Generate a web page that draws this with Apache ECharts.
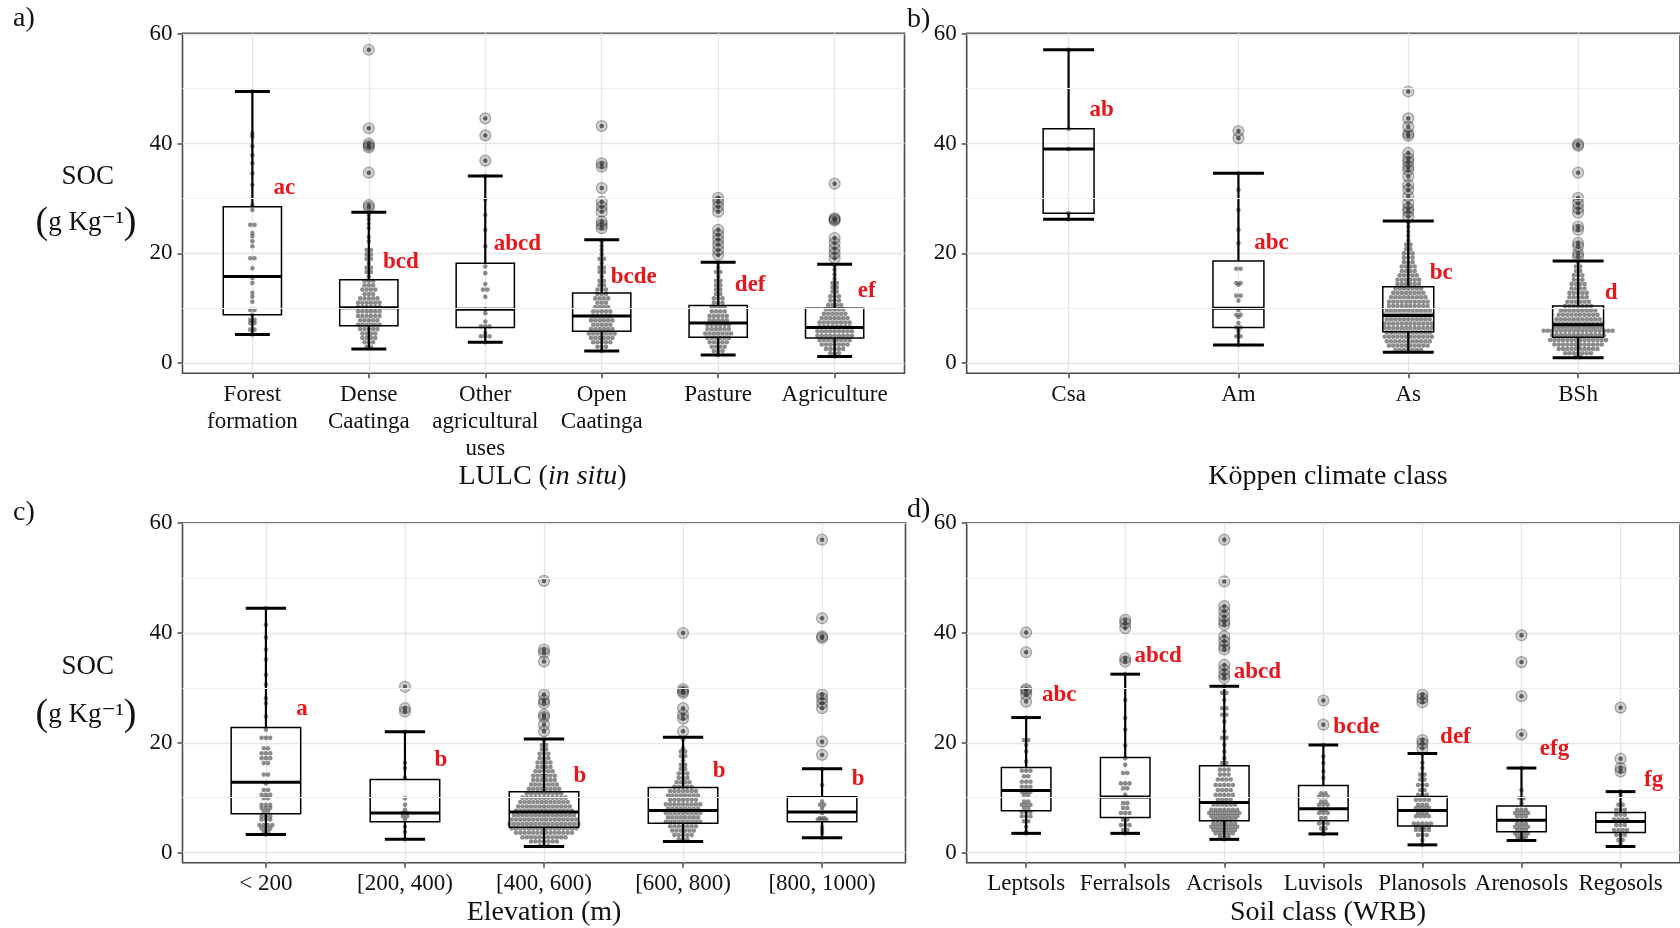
<!DOCTYPE html>
<html>
<head>
<meta charset="utf-8">
<script src="https://cdn.jsdelivr.net/npm/echarts@6/dist/echarts.min.js"></script>
<style>
  html, body { margin: 0; padding: 0; background: #fff; }
  #chart { width: 1680px; height: 928px; }
</style>
</head>
<body>
<div id="chart"></div>
<script>
// ---------- a) land use / land cover ----------
const lulcCats = ['Forest\nformation', 'Dense\nCaatinga', 'Other\nagricultural\nuses', 'Open\nCaatinga', 'Pasture', 'Agriculture'];
// [lower whisker, Q1, median, Q3, upper whisker]
const lulcBox = [
  [5.2, 8.8, 15.8, 28.5, 49.5],
  [2.6, 6.8, 10.1, 15.2, 27.5],
  [3.8, 6.5, 9.8, 18.2, 34.1],
  [2.2, 5.8, 8.6, 12.8, 22.5],
  [1.5, 4.7, 7.3, 10.5, 18.4],
  [1.2, 4.6, 6.5, 10.0, 18.0]
];
// dot-plot rows: [SOC value, number of stacked dots]
const lulcDots = [
  [[49.5,1],[41.9,1],[41.3,1],[39.5,1],[37.9,1],[36.4,1],[34.6,1],[32.5,1],[28.8,1],[27.9,1],[25.2,2],[23.7,1],[23.1,1],[22.2,1],[21.3,1],[19.1,2],[17.3,1],[15.5,1],[14.6,1],[12.8,1],[12.1,1],[11.2,1],[9.7,2],[8.8,1],[7.9,2],[7.3,2],[6.1,2],[5.2,1]],
  [[27.0,1],[26.2,1],[25.4,1],[24.6,1],[23.0,1],[22.2,1],[20.6,2],[19.8,2],[19.0,2],[18.2,1],[17.4,2],[16.6,2],[15.8,1],[15.0,3],[14.2,3],[13.4,4],[12.6,3],[11.8,5],[11.0,6],[10.2,6],[9.4,6],[8.6,6],[7.8,5],[7.0,6],[6.2,5],[5.4,4],[4.6,4],[3.8,3],[3.0,2]],
  [[34.1,1],[29.8,1],[27.0,1],[24.3,1],[21.3,1],[17.6,1],[16.4,1],[14.4,1],[13.4,2],[12.1,1],[9.8,1],[9.1,1],[7.6,1],[6.7,3],[5.5,1],[4.9,3],[3.8,1]],
  [[22.2,1],[21.4,1],[20.6,1],[19.8,1],[19.0,2],[18.2,1],[17.4,2],[16.6,2],[15.8,1],[15.0,2],[14.2,2],[13.4,3],[12.6,3],[11.8,4],[11.0,3],[10.2,4],[9.4,5],[8.6,5],[7.8,6],[7.0,5],[6.2,6],[5.4,7],[4.6,6],[3.8,5],[3.0,3],[2.2,1]],
  [[18.2,1],[17.4,1],[16.6,2],[15.8,1],[15.0,2],[14.2,2],[13.4,2],[12.6,2],[11.8,3],[11.0,3],[10.2,4],[9.4,4],[8.6,5],[7.8,5],[7.0,6],[6.2,6],[5.4,7],[4.6,6],[3.8,5],[3.0,4],[2.2,3],[1.5,1]],
  [[17.8,1],[17.0,1],[16.2,1],[15.4,1],[14.6,2],[13.8,2],[13.0,2],[12.2,3],[11.4,3],[10.6,4],[9.8,5],[9.0,6],[8.2,7],[7.4,8],[6.6,8],[5.8,9],[5.0,9],[4.2,8],[3.4,7],[2.6,5],[1.8,3],[1.2,1]]
];
const lulcOutliers = [
  [],
  [57.1, 42.8, 40.0, 39.6, 39.3, 34.7, 28.8, 28.4],
  [44.6, 41.5, 36.9],
  [43.2, 36.4, 35.8, 31.9, 29.4, 28.5, 27.6, 25.8, 25.2, 24.6],
  [30.1, 29.4, 28.5, 27.6, 24.3, 23.4, 22.5, 21.6, 20.6, 19.7],
  [32.7, 26.4, 26.2, 26.0, 22.8, 21.9, 20.9, 20.0, 19.1]
];
const lulcLetters = ['ac', 'bcd', 'abcd', 'bcde', 'def', 'ef'];
const lulcLetterY = [30.7, 17.1, 20.5, 14.45, 12.9, 11.8];

// ---------- b) Köppen climate ----------
const koppenCats = ['Csa', 'Am', 'As', 'BSh'];
const koppenBox = [
  [26.2, 27.3, 39.0, 42.7, 57.1],
  [3.3, 6.5, 10.0, 18.6, 34.6],
  [2.0, 5.7, 8.7, 13.9, 25.9],
  [1.0, 4.7, 7.0, 10.4, 18.6]
];
const koppenDots = [
  [[57.1,1],[42.7,1],[39.0,1],[27.3,1],[26.2,1]],
  [[34.6,1],[31.6,1],[27.9,1],[24.3,1],[21.9,1],[17.2,2],[14.6,2],[14.3,1],[12.3,2],[11.4,1],[9.7,1],[8.8,2],[8.4,1],[7.3,1],[6.5,2],[5.8,1],[4.9,2],[3.3,1]],
  [[25.6,1],[24.8,1],[24.0,1],[23.2,1],[22.4,1],[21.6,2],[20.8,2],[20.0,3],[19.2,3],[18.4,3],[17.6,4],[16.8,4],[16.0,5],[15.2,6],[14.4,6],[13.6,7],[12.8,8],[12.0,9],[11.2,10],[10.4,10],[9.6,11],[8.8,12],[8.0,11],[7.2,12],[6.4,12],[5.6,11],[4.8,12],[4.0,11],[3.2,10],[2.4,7]],
  [[18.4,1],[17.6,2],[16.8,2],[16.0,3],[15.2,3],[14.4,4],[13.6,4],[12.8,5],[12.0,5],[11.2,6],[10.4,7],[9.6,9],[8.8,10],[8.0,11],[7.2,12],[6.6,12],[5.9,17],[5.1,13],[4.2,14],[3.4,12],[2.6,10],[1.8,7],[1.1,2]]
];
const koppenOutliers = [
  [],
  [42.3, 41.0],
  [49.5, 44.6, 43.1, 41.8, 41.4, 38.3, 37.3, 36.7, 35.8, 35.2, 34.0, 32.5, 31.6, 30.4, 29.1, 28.2, 27.6, 26.7],
  [39.9, 39.6, 34.7, 30.1, 29.1, 28.2, 27.4, 24.9, 24.3, 21.9, 21.3, 20.0, 19.4]
];
const koppenLetters = ['ab', 'abc', 'bc', 'd'];
const koppenLetterY = [44.9, 20.6, 15.2, 11.5];

// ---------- c) elevation ----------
const elevCats = ['< 200', '[200, 400)', '[400, 600)', '[600, 800)', '[800, 1000)'];
const elevBox = [
  [3.3, 7.05, 12.8, 22.8, 44.5],
  [2.4, 5.6, 7.2, 13.3, 22.0],
  [1.1, 4.6, 7.4, 11.1, 20.7],
  [2.0, 5.35, 7.65, 11.85, 21.0],
  [2.7, 5.6, 7.4, 10.15, 15.25]
];
const elevDots = [
  [[44.5,1],[41.5,1],[39.2,1],[37.0,1],[35.2,1],[32.4,1],[30.6,1],[28.1,1],[27.2,1],[24.8,1],[22.4,1],[20.9,3],[19.0,2],[18.1,3],[17.2,3],[16.3,2],[14.2,2],[12.6,1],[11.4,2],[10.5,3],[9.9,2],[8.7,3],[8.1,3],[7.5,2],[6.6,3],[6.0,3],[5.0,4],[4.4,3],[3.8,2],[3.3,1]],
  [[22.0,1],[16.3,1],[15.4,1],[13.6,1],[9.9,1],[8.7,1],[7.8,1],[7.2,2],[6.6,2],[6.0,1],[4.7,1],[3.8,1],[2.4,1]],
  [[20.4,1],[19.6,2],[18.8,2],[18.0,3],[17.2,3],[16.4,4],[15.6,4],[14.8,5],[14.0,6],[13.2,6],[12.4,7],[11.6,8],[10.8,9],[10.0,11],[9.2,12],[8.4,13],[7.6,14],[6.8,15],[6.0,16],[5.2,17],[4.4,16],[3.6,14],[2.8,11],[2.0,7],[1.2,3]],
  [[20.6,1],[19.0,1],[18.4,2],[17.6,2],[16.8,1],[16.0,2],[15.2,2],[14.4,3],[13.6,3],[12.8,4],[12.0,5],[11.2,7],[10.4,8],[9.6,7],[8.8,9],[8.0,8],[7.2,9],[6.4,8],[5.6,9],[4.8,7],[4.0,6],[3.2,5],[2.4,3]],
  [[15.2,1],[12.3,1],[9.3,1],[8.7,2],[8.1,1],[7.2,1],[6.3,2],[6.0,3],[4.7,1],[4.1,1],[3.5,1],[2.7,1]]
];
const elevOutliers = [
  [],
  [30.2, 26.3, 25.7],
  [49.5, 37.0, 36.4, 34.8, 28.8, 27.7, 27.2, 25.1, 24.7, 23.3, 22.1],
  [40.0, 29.8, 29.4, 29.1, 26.3, 25.1, 24.4, 22.1],
  [57.0, 42.7, 39.4, 39.1, 28.8, 28.1, 27.2, 26.3, 20.2, 17.8]
];
const elevLetters = ['a', 'b', 'b', 'b', 'b'];
const elevLetterY = [24.8, 15.5, 12.6, 13.6, 12.2];

// ---------- d) soil class (WRB) ----------
const soilCats = ['Leptsols', 'Ferralsols', 'Acrisols', 'Luvisols', 'Planosols', 'Arenosols', 'Regosols'];
const soilBox = [
  [3.5, 7.6, 11.3, 15.5, 24.6],
  [3.5, 6.4, 10.1, 17.3, 32.5],
  [2.4, 5.8, 9.1, 15.8, 30.3],
  [3.4, 5.8, 8.0, 12.2, 19.6],
  [1.4, 4.85, 7.65, 10.2, 18.05],
  [2.2, 3.8, 5.9, 8.5, 15.4],
  [1.1, 3.65, 5.65, 7.3, 11.1]
];
const soilDots = [
  [[24.6,1],[20.5,2],[19.6,1],[18.4,1],[16.6,1],[14.9,3],[13.9,2],[12.9,3],[12.0,3],[11.1,3],[10.5,2],[9.3,2],[8.7,3],[8.1,2],[7.4,3],[6.6,3],[5.7,2],[4.7,1],[3.8,1],[3.5,1]],
  [[32.5,1],[27.8,1],[24.5,1],[22.4,1],[19.5,1],[17.2,1],[16.0,1],[14.5,2],[12.6,3],[11.7,2],[10.5,1],[9.0,2],[8.1,2],[7.2,3],[6.0,2],[5.0,3],[4.1,2],[3.5,1]],
  [[30.3,1],[29.1,2],[27.8,1],[26.3,2],[25.1,2],[23.9,1],[22.1,1],[20.9,2],[19.6,1],[18.4,1],[17.2,1],[16.3,2],[15.1,3],[14.2,3],[13.3,4],[12.3,5],[11.4,4],[10.5,5],[9.6,4],[8.7,6],[7.8,7],[7.2,8],[6.6,7],[6.0,6],[5.3,6],[4.7,7],[4.1,6],[3.5,5],[2.9,3],[2.4,1]],
  [[19.6,1],[17.5,1],[16.3,1],[14.8,1],[13.6,1],[10.8,2],[10.2,3],[9.3,2],[8.7,3],[7.8,2],[7.2,3],[6.3,2],[5.3,3],[4.4,2],[3.8,1],[3.4,1]],
  [[18.0,1],[16.3,1],[15.4,1],[14.2,2],[13.3,2],[12.3,3],[11.4,2],[10.5,3],[9.6,4],[8.7,3],[8.1,4],[7.2,3],[6.6,4],[5.3,5],[4.7,4],[4.1,4],[3.2,3],[2.3,1],[1.4,1]],
  [[15.4,1],[11.4,1],[9.9,2],[9.0,1],[7.8,3],[7.2,4],[6.6,3],[5.3,3],[4.7,4],[4.1,3],[3.5,4],[2.9,3],[2.5,2]],
  [[11.1,1],[10.5,1],[8.7,2],[7.8,3],[6.9,3],[6.0,4],[5.0,3],[4.1,4],[3.2,3],[2.3,2],[1.7,1]]
];
const soilOutliers = [
  [40.1, 36.5, 29.8, 29.5, 28.8, 27.5],
  [42.4, 41.8, 40.9, 35.4, 34.8],
  [57.0, 49.4, 44.9, 44.0, 43.0, 42.1, 41.5, 39.4, 38.5, 37.6, 37.0, 34.2, 33.3, 32.4, 31.8],
  [27.7, 23.3],
  [28.8, 28.1, 27.4, 20.5, 19.9, 19.0],
  [39.6, 34.7, 28.5, 21.5],
  [26.4, 17.1, 15.4, 14.8]
];
const soilLetters = ['abc', 'abcd', 'abcd', 'bcde', 'def', 'efg', 'fg'];
const soilLetterY = [27.4, 34.5, 31.7, 21.5, 19.8, 17.5, 12.0];

const yTicks = [0, 20, 40, 60];
const yMinorGrid = [10, 30, 50];

// ---------- drawing ----------
const FONT = '"Liberation Serif", "Times New Roman", "DejaVu Serif", serif';
const Y_MIN = -1.85, Y_MAX = 60.1;
const DOT_R = 2.3, DOT_STEP = 4.3;
const LETTER_COLOR = '#e8151b';
const LETTER_FONT = 'bold 23px ' + FONT;

const panels = [
  { cats: lulcCats, box: lulcBox, dots: lulcDots, outliers: lulcOutliers, letters: lulcLetters, letterY: lulcLetterY,
    grid: { left: 182.5, top: 33.3, width: 722, height: 340 }, boxW: 0.5, capW: 0.3, letterDx: 32 },
  { cats: koppenCats, box: koppenBox, dots: koppenDots, outliers: koppenOutliers, letters: koppenLetters, letterY: koppenLetterY,
    grid: { left: 966.7, top: 33.3, width: 723, height: 340 }, boxW: 0.3, capW: 0.3, letterDx: 33 },
  { cats: elevCats, box: elevBox, dots: elevDots, outliers: elevOutliers, letters: elevLetters, letterY: elevLetterY,
    grid: { left: 182.5, top: 522.7, width: 723, height: 340 }, boxW: 0.5, capW: 0.29, letterDx: 36 },
  { cats: soilCats, box: soilBox, dots: soilDots, outliers: soilOutliers, letters: soilLetters, letterY: soilLetterY,
    grid: { left: 966.7, top: 522.7, width: 723, height: 340 }, boxW: 0.5, capW: 0.3, letterDx: 33 }
];

function boxRenderer(boxW, capW) {
  return function (params, api) {
    const i = api.value(0);
    const unit = api.size([1, 0])[0];
    const hw = unit * boxW / 2, hc = unit * capW / 2;
    const cx = api.coord([i, 0])[0];
    const y = k => api.coord([i, api.value(k)])[1];
    const yLow = y(1), yQ1 = y(2), yMed = y(3), yQ3 = y(4), yHigh = y(5);
    const thin = { stroke: '#000', lineWidth: 2.2 };
    const thick = { stroke: '#000', lineWidth: 3 };
    return {
      type: 'group',
      children: [
        { type: 'line', shape: { x1: cx, y1: yHigh, x2: cx, y2: yQ3 }, style: thin },
        { type: 'line', shape: { x1: cx, y1: yQ1, x2: cx, y2: yLow }, style: thin },
        { type: 'line', shape: { x1: cx - hc, y1: yHigh, x2: cx + hc, y2: yHigh }, style: thick },
        { type: 'line', shape: { x1: cx - hc, y1: yLow, x2: cx + hc, y2: yLow }, style: thick },
        { type: 'rect', shape: { x: cx - hw, y: yQ3, width: 2 * hw, height: yQ1 - yQ3 },
          style: { fill: 'none', stroke: '#000', lineWidth: 1.5 } },
        { type: 'line', shape: { x1: cx - hw, y1: yMed, x2: cx + hw, y2: yMed }, style: thick }
      ]
    };
  };
}

function dotRenderer(params, api) {
  const p = api.coord([api.value(0), api.value(1)]);
  const n = api.value(2);
  const children = [];
  for (let j = 0; j < n; j++) {
    children.push({
      type: 'circle',
      shape: { cx: p[0] + (j - (n - 1) / 2) * DOT_STEP, cy: p[1], r: DOT_R },
      style: { fill: 'rgba(70,70,70,0.62)' }
    });
  }
  return { type: 'group', children: children };
}

const grids = [], xAxes = [], yAxes = [], series = [];
panels.forEach((pn, k) => {
  const idx = pn.cats.map((c, i) => i);
  grids.push(Object.assign({ show: true, borderColor: '#4a4a4a', borderWidth: 1.6, backgroundColor: 'transparent' }, pn.grid));
  xAxes.push({
    gridIndex: k, type: 'value', min: -0.6, max: pn.cats.length - 0.4,
    axisLine: { show: false, onZero: false },
    axisTick: { show: true, inside: false, length: 5, customValues: idx, lineStyle: { color: '#4a4a4a', width: 1.5 } },
    axisLabel: { customValues: idx, formatter: v => pn.cats[Math.round(v)], fontFamily: FONT, fontSize: 23,
      color: '#111', lineHeight: 27, margin: 8 },
    splitLine: { show: true, lineStyle: { color: '#e6e6e6', width: 1.3 } }
  });
  yAxes.push({
    gridIndex: k, type: 'value', min: Y_MIN, max: Y_MAX,
    axisLine: { show: false, onZero: false },
    axisTick: { show: true, inside: false, length: 5, customValues: yTicks, lineStyle: { color: '#4a4a4a', width: 1.5 } },
    axisLabel: { customValues: yTicks, fontFamily: FONT, fontSize: 23, color: '#111', margin: 10 },
    splitLine: { show: true, lineStyle: { color: '#e6e6e6', width: 1.4 } }
  });

  // minor horizontal grid lines
  series.push({
    type: 'line', xAxisIndex: k, yAxisIndex: k, data: [], z: 1, silent: true,
    markLine: { silent: true, symbol: 'none', label: { show: false },
      lineStyle: { color: '#f1f1f1', width: 1, type: 'solid' },
      data: yMinorGrid.map(v => ({ yAxis: v })) }
  });

  const outData = [];
  pn.outliers.forEach((list, i) => list.forEach(v => outData.push([i, v])));
  series.push({
    type: 'scatter', xAxisIndex: k, yAxisIndex: k, z: 2, silent: true, data: outData,
    symbolSize: 11, itemStyle: { color: 'rgba(0,0,0,0.18)', borderColor: 'rgba(0,0,0,0.3)', borderWidth: 1.2, opacity: 1 }
  });
  series.push({
    type: 'scatter', xAxisIndex: k, yAxisIndex: k, z: 3, silent: true, data: outData,
    symbolSize: 4.4, itemStyle: { color: 'rgba(55,55,55,0.75)', opacity: 1 }
  });

  const dotData = [];
  pn.dots.forEach((rows, i) => rows.forEach(([v, c]) => dotData.push([i, v, c])));
  series.push({
    type: 'custom', xAxisIndex: k, yAxisIndex: k, z: 3, silent: true, data: dotData,
    renderItem: dotRenderer
  });

  series.push({
    type: 'custom', xAxisIndex: k, yAxisIndex: k, z: 4, silent: true,
    data: pn.box.map((b, i) => [i].concat(b)),
    renderItem: boxRenderer(pn.boxW, pn.capW)
  });

  // significance letters, anchored at their baseline value
  series.push({
    type: 'custom', xAxisIndex: k, yAxisIndex: k, z: 5, silent: true,
    data: pn.letterY.map((v, i) => [i, v]),
    renderItem: function (params, api) {
      const p = api.coord([api.value(0), api.value(1)]);
      return {
        type: 'text', x: p[0] + pn.letterDx, y: p[1] - 7,
        style: { text: pn.letters[params.dataIndex], fill: LETTER_COLOR,
          font: LETTER_FONT, align: 'center', verticalAlign: 'middle' }
      };
    }
  });
});

function label(text, x, y, size, extra) {
  return {
    type: 'text', x: x, y: y, silent: true,
    style: Object.assign({ text: text, fill: '#111', font: size + 'px ' + FONT, align: 'center', verticalAlign: 'middle' }, extra || {})
  };
}
const yTitleRich = {
  p: { fontFamily: FONT, fontSize: 38, fill: '#111' },
  t: { fontFamily: FONT, fontSize: 27, fill: '#111' }
};
const graphics = [
  label('a)', 24, 18.5, 28), label('b)', 918.7, 20, 28),
  label('c)', 24, 513, 28), label('d)', 918.7, 510, 28),
  label('SOC', 87.8, 176.7, 27),
  label('{p|(}{t|g Kg⁻¹}{p|)}', 86, 223.3, 27, { rich: yTitleRich }),
  label('SOC', 87.8, 666.7, 27),
  label('{p|(}{t|g Kg⁻¹}{p|)}', 86, 715, 27, { rich: yTitleRich }),
  label('{n|LULC (}{i|in situ}{n|)}', 542.5, 476.7, 28, { rich: {
    n: { fontFamily: FONT, fontSize: 28, fill: '#111' },
    i: { fontFamily: FONT, fontSize: 28, fontStyle: 'italic', fill: '#111' } } }),
  label('Köppen climate class', 1328, 476.7, 28),
  label('Elevation (m)', 544, 913, 28),
  label('Soil class (WRB)', 1328, 913, 28)
];

const chart = echarts.init(document.getElementById('chart'), null, { renderer: 'canvas' });
chart.setOption({
  animation: false,
  backgroundColor: '#fff',
  grid: grids, xAxis: xAxes, yAxis: yAxes, series: series,
  graphic: graphics
});
</script>
</body>
</html>
